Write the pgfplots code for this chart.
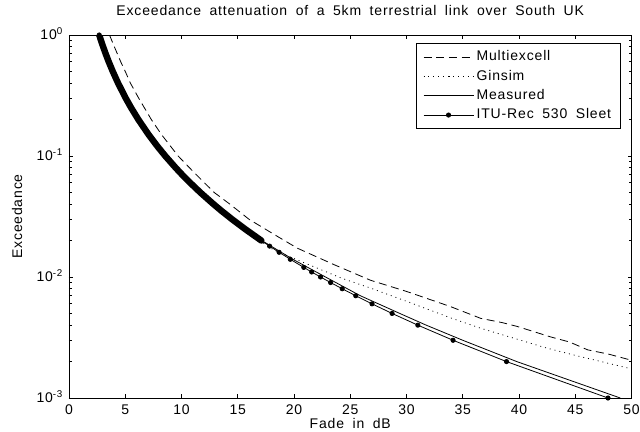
\documentclass[border=0pt]{standalone}
\usepackage{fontspec}
\setmainfont{Liberation Sans}[LetterSpace=6,WordSpace=1.8]
\usepackage{pgfplots}
\pgfplotsset{compat=1.18}

\newcommand{\lbl}{\fontsize{10.5}{12}\selectfont}

\begin{document}
\begin{tikzpicture}
\useasboundingbox (-51.75pt,-25.5pt) rectangle (428.25pt,298.5pt);
\begin{axis}[
    at={(0pt,0pt)}, anchor=south west,
    scale only axis, width=421.9pt, height=272.25pt,
    xmin=0, xmax=50, ymin=1e-3, ymax=1, ymode=log,
    xtick={0,5,...,50},
    xticklabels={0,5,10,15,20,25,30,35,40,45,50},
    ytick={1e-3,1e-2,1e-1,1},
    yticklabels={10\textsuperscript{-3},10\textsuperscript{-2},10\textsuperscript{-1},10\textsuperscript{0}},
    tick align=inside,
    major tick length=3pt, minor tick length=2pt,
    every tick/.style={black, line width=0.6pt},
    axis line style={line width=0.6pt},
    xticklabel style={font=\lbl, anchor=base, yshift=-12pt},
    yticklabel style={font=\lbl, anchor=base east, yshift=-3.7pt, xshift=-1pt},
    title={Exceedance attenuation of a 5km terrestrial link over South UK},
    title style={font=\lbl, at={(axis description cs:0.5,1)}, anchor=base, yshift=9pt},
    xlabel={Fade in dB},
    xlabel style={font=\lbl, at={(axis description cs:0.5,0)}, anchor=base, yshift=-23pt},
    ylabel={Exceedance},
    ylabel style={font=\lbl, at={(axis description cs:-0.0924,0.5)}, anchor=center},
    legend style={at={(axis description cs:0.981,0.978)}, anchor=north east,
        draw=black, line width=0.6pt, font=\lbl, inner xsep=5pt, inner ysep=3pt,
        row sep=0pt, nodes={inner sep=2pt, text height=8pt, text depth=2.5pt}},
    legend cell align=left,
    legend image code/.code={
        \draw[mark repeat=2,mark phase=2,#1] plot coordinates {(0pt,0pt) (18.75pt,0pt) (37.5pt,0pt)};},
]
% Multiexcell
\addplot[black, line width=0.6pt, dash pattern=on 6pt off 3.5pt] coordinates {
(3.6,1) (4.03,0.8) (4.6,0.6) (5.0,0.5) (5.46,0.4) (6.2,0.3) (7.32,0.2) (8.23,0.15)
(9.7,0.1) (11.0,0.075) (12.9,0.05) (14.3,0.04) (16.0,0.03) (18.4,0.022) (20.3,0.0173)
(23.6,0.0126) (26.8,0.0094) (30,0.0076) (33.9,0.0057) (36.6,0.00455) (38.5,0.0042)
(39.85,0.0039) (42.8,0.0032) (44.5,0.0029) (46.1,0.0025) (48,0.0023) (50,0.00205)};
% Ginsim
\addplot[black, line width=0.6pt, dash pattern=on 0.7pt off 3pt] coordinates {
(2.6,1) (2.95,0.8) (3.45,0.6) (4.25,0.4) (4.95,0.3) (6.05,0.2) (6.95,0.15) (8.4,0.1)
(9.35,0.08) (10.6,0.06) (12.6,0.04) (14.3,0.03) (16.95,0.02) (18.2,0.0167) (20,0.0142)
(22.1,0.0118) (24.2,0.0098) (26.8,0.0081) (30,0.0063) (33.9,0.0046) (36.6,0.00377)
(40,0.00303) (42.5,0.00258) (45,0.00225) (47.5,0.00198) (50,0.00174)};
% Measured
\addplot[black, line width=0.6pt] coordinates {
(2.688,1) (3.033,0.8) (3.535,0.6) (4.364,0.4) (5.048,0.3) (6.167,0.2) (7.08,0.15)
(8.559,0.1) (10.777,0.06) (12.843,0.04) (14.495,0.03) (17.15,0.02) (19.9,0.014)
(22.8,0.01) (25.9,0.007) (29.4,0.005) (31.75,0.004) (35.0,0.003) (39.8,0.002) (49.0,0.001)};
% ITU-R P.530 sleet
\addplot[black, line width=0.6pt, mark=*, mark size=1.6pt] coordinates {
(2.688,1) (2.847,0.9) (3.033,0.8) (3.258,0.7) (3.535,0.6) (3.890,0.5) (4.364,0.4)
(5.048,0.3) (5.527,0.25) (6.167,0.2) (7.080,0.15) (7.867,0.12) (8.559,0.1) (9.477,0.08)
(10.062,0.07) (10.777,0.06) (11.669,0.05) (12.843,0.04) (13.590,0.035) (14.495,0.03)
(15.626,0.025) (17.098,0.02) (17.830,0.018) (18.676,0.016) (19.671,0.014) (20.869,0.012)
(21.570,0.011) (22.358,0.01) (23.252,0.009) (24.282,0.008) (25.488,0.007) (26.933,0.006)
(28.716,0.005) (31.007,0.004) (34.137,0.003) (38.887,0.002) (47.91,0.001)};
% dense marker band of the ITU curve
\addplot[black, line width=4.8pt, line cap=round, line join=round, forget plot] coordinates {
(2.688,1) (2.847,0.9) (3.033,0.8) (3.258,0.7) (3.535,0.6) (3.890,0.5) (4.364,0.4)
(5.048,0.3) (5.527,0.25) (6.167,0.2) (7.080,0.15) (7.867,0.12) (8.559,0.1) (9.477,0.08)
(10.062,0.07) (10.777,0.06) (11.669,0.05) (12.843,0.04) (13.590,0.035) (14.495,0.03)
(15.626,0.025) (17.098,0.02)};
\legend{Multiexcell,Ginsim,Measured,ITU-Rec 530 Sleet}
\end{axis}
\end{tikzpicture}
\end{document}
